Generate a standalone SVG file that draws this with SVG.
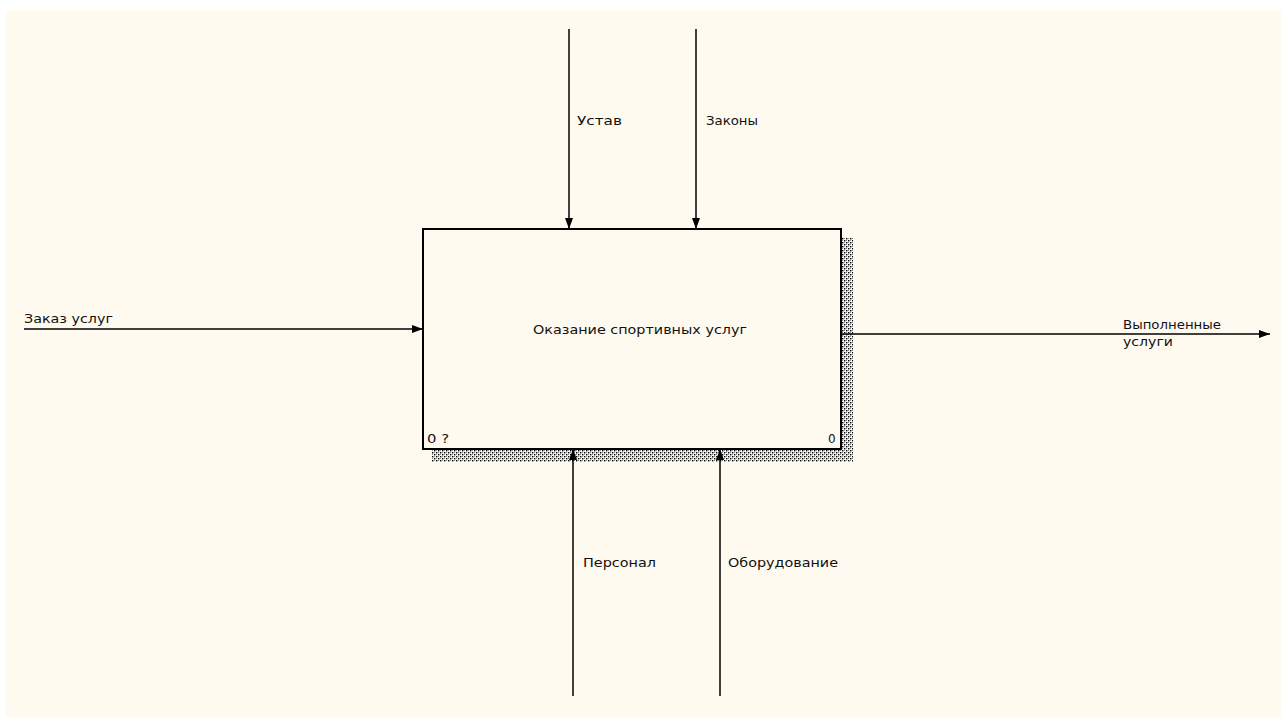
<svg xmlns="http://www.w3.org/2000/svg" width="1281" height="718" viewBox="0 0 1281 718">
<defs>
<style>
.lbl{font-family:"DejaVu Sans",Verdana,sans-serif;font-size:12px;fill:#111}
.ln{stroke:#000;stroke-width:1.5;fill:none}
.box{fill:#fffaef;stroke:#000;stroke-width:2}
</style>
<pattern id="dots" width="4" height="4" patternUnits="userSpaceOnUse">
<rect x="0" y="0" width="4" height="4" fill="#fffaef"/>
<rect x="0" y="0" width="1.4" height="1.4" fill="#000"/>
<rect x="2" y="2" width="1.4" height="1.4" fill="#000"/>
<rect x="2" y="0" width="1" height="1" fill="#888"/>
<rect x="0" y="2" width="1" height="1" fill="#888"/>
</pattern>
<marker id="ah" markerWidth="11" markerHeight="8" refX="11" refY="4" orient="auto" markerUnits="userSpaceOnUse">
<path d="M0,0 L11,4 L0,8 Z" fill="#000"/>
</marker>
</defs>
<rect x="0" y="0" width="1281" height="718" fill="#fff"/>
<rect x="6" y="10" width="1275" height="707" fill="#fffaef"/>
<g id="node-A0">
<rect x="841" y="238" width="12" height="224" fill="url(#dots)"/>
<rect x="432" y="449" width="421" height="13" fill="url(#dots)"/>
<rect class="box" x="423" y="229" width="418" height="220"/>
<text class="lbl" x="533" y="334" textLength="214" lengthAdjust="spacingAndGlyphs">Оказание спортивных услуг</text>
<text class="lbl" x="427" y="443" textLength="22" lengthAdjust="spacingAndGlyphs">0 ?</text>
<text class="lbl" x="828" y="443">0</text>
</g>
<g id="connectors">
<line class="ln" x1="24" y1="329" x2="423" y2="329" marker-end="url(#ah)"/>
<line class="ln" x1="841" y1="334" x2="1270" y2="334" marker-end="url(#ah)"/>
<line class="ln" x1="569" y1="29" x2="569" y2="229" marker-end="url(#ah)"/>
<line class="ln" x1="696" y1="29" x2="696" y2="229" marker-end="url(#ah)"/>
<line class="ln" x1="573" y1="696" x2="573" y2="449" marker-end="url(#ah)"/>
<line class="ln" x1="720" y1="696" x2="720" y2="449" marker-end="url(#ah)"/>
</g>
<g id="labels">
<text class="lbl" x="24" y="323" textLength="89" lengthAdjust="spacingAndGlyphs">Заказ услуг</text>
<text class="lbl" x="1123" y="329" textLength="98" lengthAdjust="spacingAndGlyphs">Выполненные</text>
<text class="lbl" x="1123" y="346" textLength="50" lengthAdjust="spacingAndGlyphs">услуги</text>
<text class="lbl" x="577" y="125" textLength="45" lengthAdjust="spacingAndGlyphs">Устав</text>
<text class="lbl" x="706" y="125" textLength="52" lengthAdjust="spacingAndGlyphs">Законы</text>
<text class="lbl" x="583" y="567" textLength="73" lengthAdjust="spacingAndGlyphs">Персонал</text>
<text class="lbl" x="728" y="567" textLength="110" lengthAdjust="spacingAndGlyphs">Оборудование</text>
</g>
</svg>
